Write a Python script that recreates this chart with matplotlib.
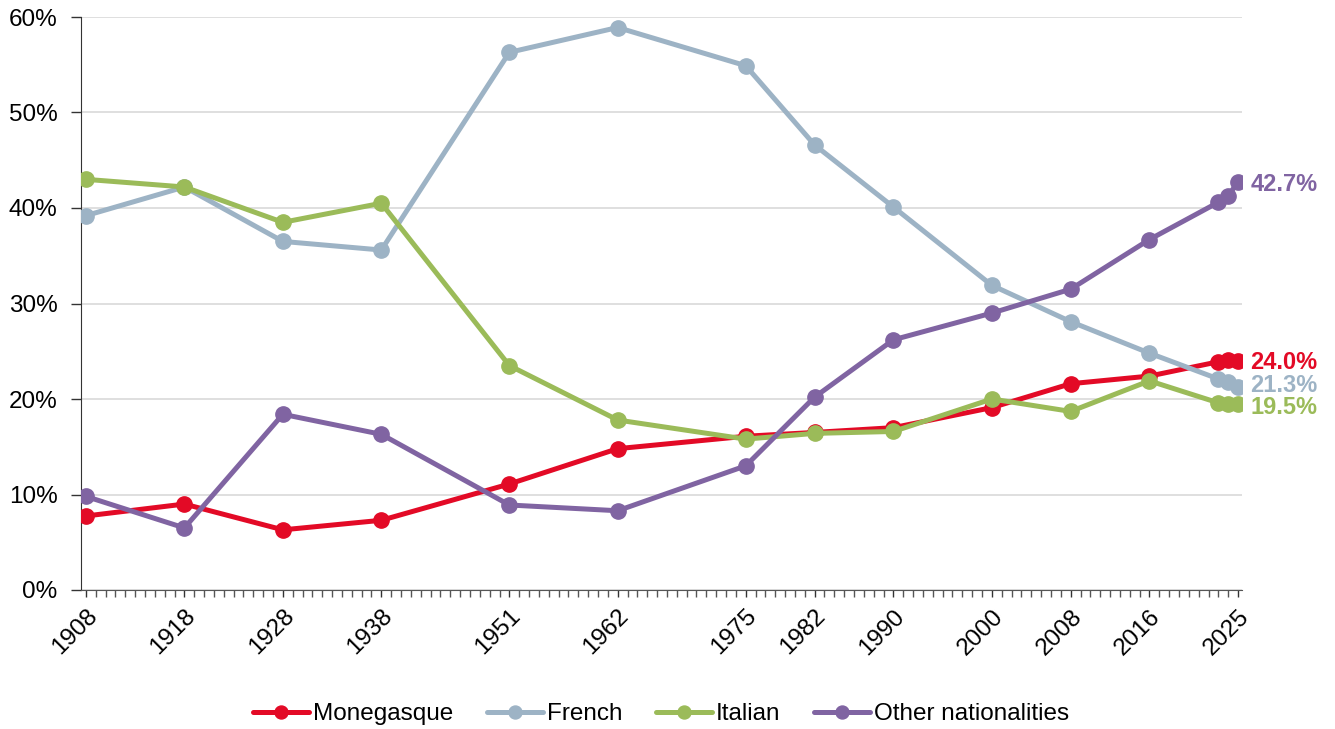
import matplotlib
matplotlib.use("Agg")
import matplotlib.pyplot as plt
from matplotlib.ticker import FuncFormatter, MultipleLocator, FixedLocator

plt.rcParams['font.family'] = ['Liberation Sans', 'DejaVu Sans']

years = [1908, 1918, 1928, 1938, 1951, 1962, 1975, 1982, 1990, 2000, 2008, 2016, 2023, 2024, 2025]
tick_years = [1908, 1918, 1928, 1938, 1951, 1962, 1975, 1982, 1990, 2000, 2008, 2016, 2025]

monegasque = [7.75, 9.0, 6.3, 7.3, 11.1, 14.8, 16.1, 16.5, 17.0, 19.1, 21.6, 22.4, 23.9, 24.1, 24.0]
french = [39.2, 42.2, 36.5, 35.6, 56.3, 58.9, 54.9, 46.6, 40.1, 31.9, 28.1, 24.8, 22.1, 21.8, 21.3]
italian = [43.0, 42.2, 38.5, 40.5, 23.5, 17.8, 15.8, 16.4, 16.6, 20.0, 18.7, 21.9, 19.6, 19.5, 19.5]
other = [9.8, 6.5, 18.4, 16.3, 8.9, 8.3, 13.0, 20.2, 26.2, 29.0, 31.5, 36.7, 40.6, 41.3, 42.7]

series_names = ["Monegasque", "French", "Italian", "Other nationalities"]
series_values = [monegasque, french, italian, other]
colors = ["#E30A26", "#9DB3C5", "#9BBB59", "#8064A2"]
label_dy = [-1.0, 0.5, -3.0, -1.5]  # vertical nudge of end labels, in points

fig = plt.figure(figsize=(13.35, 7.29), dpi=100)
ax = fig.add_axes([81/1335, 1 - 590/729, (1242-81)/1335, (590-17)/729])

for name, vals, c, dy in zip(series_names, series_values, colors, label_dy):
    ax.plot(years, vals, color=c, lw=3.6, marker='o', markersize=11,
            label=name, solid_capstyle='round', zorder=3)
    ax.annotate(f"{vals[-1]:.1f}%", xy=(years[-1], vals[-1]), xytext=(9, dy),
                textcoords='offset points', va='center', ha='left',
                color=c, fontsize=17, fontweight='bold', annotation_clip=False)

ax.set_xlim(1907.5, 2025.4)
ax.set_ylim(0, 60)
ax.yaxis.set_major_locator(MultipleLocator(10))
ax.yaxis.set_major_formatter(FuncFormatter(lambda v, p: f"{v:.0f}%"))
ax.grid(axis='y', color='#D9D9D9', lw=1.2, zorder=0)
ax.set_axisbelow(True)

ax.xaxis.set_major_locator(FixedLocator(tick_years))
ax.xaxis.set_minor_locator(FixedLocator(list(range(1908, 2026))))
ax.tick_params(axis='x', which='major', length=5, width=1, color='#333333',
               labelsize=17.5, pad=6, direction='out')
ax.tick_params(axis='x', which='minor', length=5, width=1, color='#555555', direction='out')
for lab in ax.get_xticklabels():
    lab.set_rotation(45)
    lab.set_ha('right')
    lab.set_rotation_mode('anchor')
ax.tick_params(axis='y', length=7, width=1, labelsize=17.5, pad=10, color='#333333')

for s in ['top', 'right']:
    ax.spines[s].set_visible(False)
ax.spines['left'].set_color('#333333')
ax.spines['bottom'].set_color('#555555')

fig.legend(loc='center', bbox_to_anchor=(661/1335, 1 - 714/729), ncol=4, frameon=False,
           fontsize=17.5, handlelength=2.3, handletextpad=0.15, columnspacing=1.4,
           markerscale=0.85)

fig.savefig("out.png", dpi=100)
